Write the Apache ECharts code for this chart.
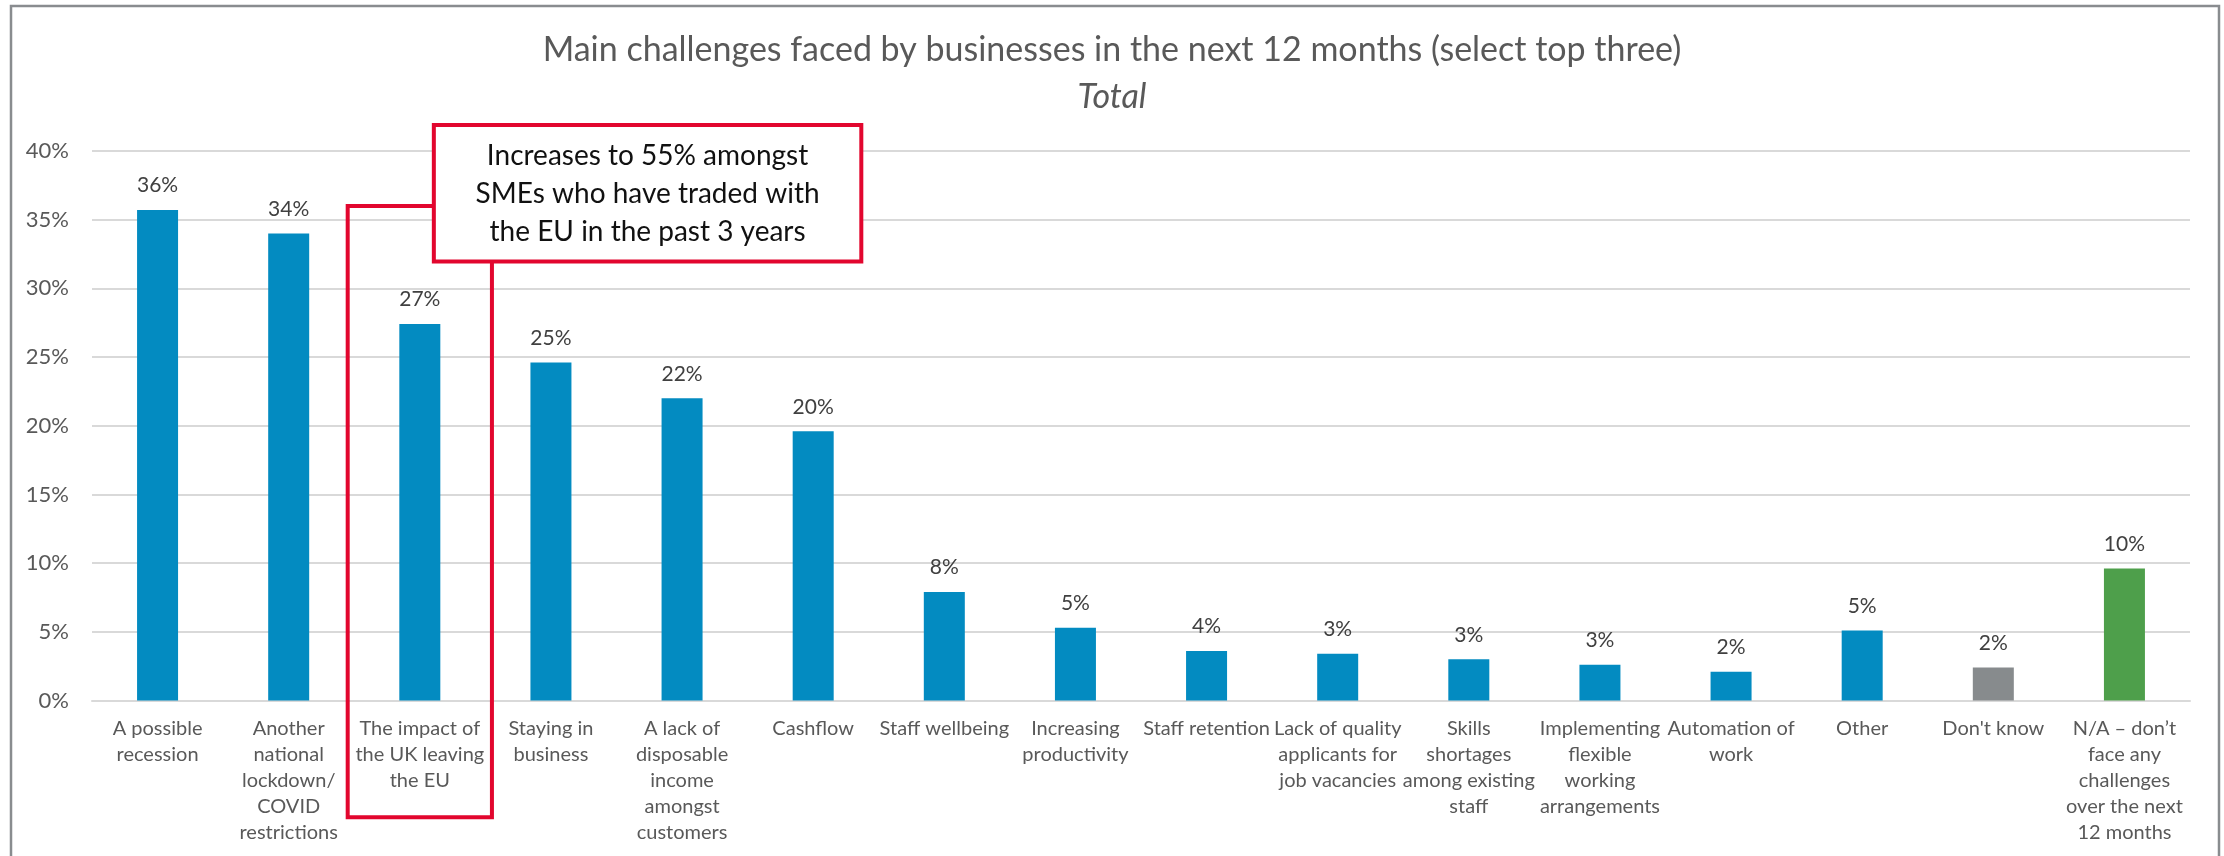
<!DOCTYPE html>
<html>
<head>
<meta charset="utf-8">
<style>
  html, body { margin: 0; padding: 0; background: #ffffff; }
  #chart { width: 2224px; height: 856px; }
</style>
<script src="https://cdn.jsdelivr.net/npm/echarts@6/dist/echarts.min.js"></script>
</head>
<body>
<div id="chart"></div>
<script>
// Survey answers (share of businesses, %)
const categories = [
  'A possible\nrecession',
  'Another\nnational\nlockdown/\nCOVID\nrestrictions',
  'The impact of\nthe UK leaving\nthe EU',
  'Staying in\nbusiness',
  'A lack of\ndisposable\nincome\namongst\ncustomers',
  'Cashflow',
  'Staff wellbeing',
  'Increasing\nproductivity',
  'Staff retention',
  'Lack of quality\napplicants for\njob vacancies',
  'Skills\nshortages\namong existing\nstaff',
  'Implementing\nflexible\nworking\narrangements',
  'Automation of\nwork',
  'Other',
  "Don't know",
  'N/A – don’t\nface any\nchallenges\nover the next\n12 months'
];
const shares = [35.7, 34.0, 27.4, 24.6, 22.0, 19.6, 7.9, 5.3, 3.6, 3.4, 3.0, 2.6, 2.1, 5.1, 2.4, 9.6];
const yTicks = [0, 5, 10, 15, 20, 25, 30, 35, 40];

const titleText = 'Main challenges faced by businesses in the next 12 months (select top three)';
const subtitleText = 'Total';
const noteText = 'Increases to 55% amongst\nSMEs who have traded with\nthe EU in the past 3 years';
const noteCategory = categories[2];

const FONT = 'Lato, "Open Sans", sans-serif';
const BLUE = '#038BC1';
const GREY = '#878B8D';
const GREEN = '#4E9F4B';
const RED = '#E2062E';

function barColour(name) {
  if (name === "Don't know") return GREY;
  if (name.indexOf('N/A') === 0) return GREEN;
  return BLUE;
}

const chart = echarts.init(document.getElementById('chart'), null, { renderer: 'canvas' });

chart.setOption({
  animation: false,
  backgroundColor: '#ffffff',
  title: [
    {
      text: titleText,
      left: 'center',
      top: 28,
      textStyle: { fontFamily: FONT, fontSize: 34, fontWeight: 'normal', color: '#595959' }
    },
    {
      text: subtitleText,
      left: 'center',
      top: 75,
      textStyle: { fontFamily: FONT, fontSize: 34, fontWeight: 'normal', fontStyle: 'italic', color: '#595959' }
    }
  ],
  grid: { left: 92, right: 34, top: 151, bottom: 155.5, containLabel: false },
  xAxis: {
    type: 'category',
    data: categories,
    axisLine: { show: true, lineStyle: { color: '#D9D9D9', width: 2 } },
    axisTick: { show: false },
    axisLabel: {
      interval: 0,
      margin: 15,
      fontFamily: FONT,
      fontSize: 20,
      lineHeight: 26,
      color: '#595959',
      verticalAlign: 'top'
    }
  },
  yAxis: {
    type: 'value',
    min: yTicks[0],
    max: yTicks[yTicks.length - 1],
    interval: yTicks[1] - yTicks[0],
    axisLine: { show: false },
    axisTick: { show: false },
    splitLine: { lineStyle: { color: '#D9D9D9', width: 2 } },
    axisLabel: {
      margin: 23,
      fontFamily: FONT,
      fontSize: 22,
      color: '#595959',
      formatter: v => v + '%'
    }
  },
  series: [{
    type: 'bar',
    barWidth: 41,
    data: shares.map((v, i) => ({ value: v, itemStyle: { color: barColour(categories[i]) } })),
    label: {
      show: true,
      position: 'top',
      distance: 14,
      fontFamily: FONT,
      fontSize: 21,
      color: '#404040',
      formatter: p => Math.round(p.value) + '%'
    }
  }]
});

// Callout box and highlight frame around one category
function drawCallout() {
  const cx = chart.convertToPixel({ xAxisIndex: 0 }, noteCategory);
  const yAt = v => chart.convertToPixel({ yAxisIndex: 0 }, v);
  const band = chart.getModel().getComponent('xAxis', 0).axis.getBandWidth();

  const frameLeft = cx - 0.55 * band;
  const frameRight = cx + 0.55 * band;
  const frameTop = yAt(36.0);
  const frameBottom = yAt(-8.5);

  const boxLeft = cx + 0.107 * band;
  const boxRight = boxLeft + 3.26 * band;
  const boxTop = yAt(41.9);
  const boxBottom = yAt(31.95);

  chart.setOption({
    graphic: [
      {
        type: 'rect',
        silent: true,
        shape: { x: 11, y: 6, width: 2208, height: 900 },
        style: { fill: 'none', stroke: '#898C8F', lineWidth: 2.5 },
        z: 100
      },
      {
        type: 'rect',
        silent: true,
        shape: { x: frameLeft, y: frameTop, width: frameRight - frameLeft, height: frameBottom - frameTop },
        style: { fill: 'none', stroke: RED, lineWidth: 4 },
        z: 100
      },
      {
        type: 'rect',
        silent: true,
        shape: { x: boxLeft, y: boxTop, width: boxRight - boxLeft, height: boxBottom - boxTop },
        style: { fill: '#ffffff', stroke: RED, lineWidth: 4 },
        z: 101
      },
      {
        type: 'text',
        silent: true,
        x: (boxLeft + boxRight) / 2,
        y: (boxTop + boxBottom) / 2 + 1,
        style: {
          text: noteText,
          fontFamily: FONT,
          fontSize: 28,
          lineHeight: 38,
          fill: '#111111',
          align: 'center',
          verticalAlign: 'middle'
        },
        z: 102
      }
    ]
  });
}
drawCallout();
</script>
</body>
</html>
